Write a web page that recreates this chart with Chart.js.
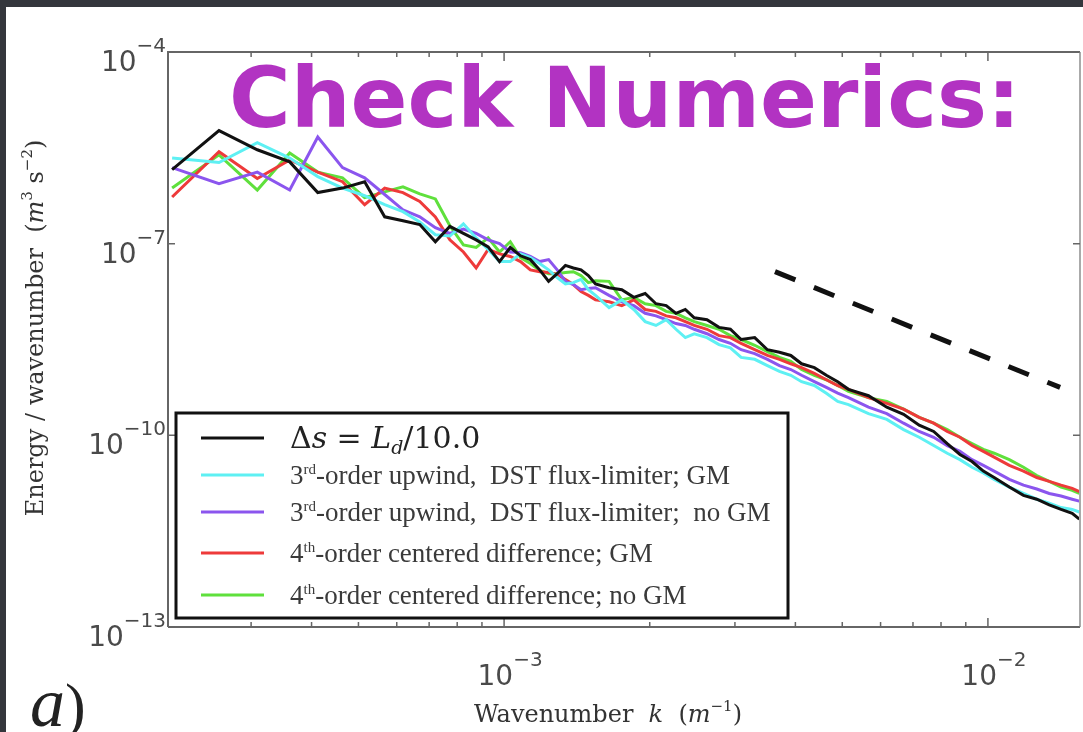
<!DOCTYPE html>
<html>
<head>
<meta charset="utf-8">
<script src="https://cdn.jsdelivr.net/npm/chart.js@4.4.0/dist/chart.umd.min.js"></script>
<style>
  html, body { margin: 0; padding: 0; background: #fff; }
  canvas { display: block; }
</style>
</head>
<body>
<canvas id="myChart" width="1083" height="732"></canvas>
<script>
/* WAVENUMBER k (1/m) */
const wavenumber = [2.06e-4, 2.575e-4, 3.09e-4, 3.605e-4, 4.12e-4, 4.635e-4, 5.15e-4, 5.665e-4, 6.18e-4, 6.695e-4,
  7.21e-4, 7.725e-4, 8.24e-4, 8.755e-4, 9.27e-4, 9.785e-4, 1.03e-3, 1.0815e-3, 1.133e-3, 1.1845e-3,
  1.236e-3, 1.2875e-3, 1.339e-3, 1.3905e-3, 1.442e-3, 1.4935e-3, 1.545e-3, 1.648e-3, 1.751e-3, 1.854e-3,
  1.957e-3, 2.06e-3, 2.163e-3, 2.266e-3, 2.369e-3, 2.472e-3, 2.6265e-3, 2.781e-3, 2.9355e-3, 3.09e-3,
  3.296e-3, 3.502e-3, 3.708e-3, 3.914e-3, 4.12e-3, 4.3775e-3, 4.635e-3, 4.8925e-3, 5.15e-3, 5.665e-3,
  6.18e-3, 6.695e-3, 7.21e-3, 7.725e-3, 8.24e-3, 8.755e-3, 9.27e-3, 9.785e-3, 1.03e-2, 1.10725e-2,
  1.1845e-2, 1.26175e-2, 1.339e-2, 1.41625e-2, 1.4935e-2, 1.545e-2];

/* ENERGY / WAVENUMBER, AS POWERS OF TEN */
const energyLd10 = [-5.84, -5.23, -5.53, -5.72, -6.20, -6.13, -6.03, -6.58, -6.64, -6.70,
  -6.97, -6.73, -6.84, -6.94, -7.05, -7.28, -7.06, -7.19, -7.25, -7.41,
  -7.59, -7.47, -7.34, -7.38, -7.41, -7.50, -7.63, -7.69, -7.72, -7.84,
  -7.78, -7.94, -7.97, -8.09, -8.03, -8.16, -8.19, -8.31, -8.34, -8.50,
  -8.47, -8.66, -8.70, -8.75, -8.88, -8.94, -9.06, -9.16, -9.28, -9.38,
  -9.56, -9.67, -9.84, -9.94, -10.13, -10.30, -10.41, -10.56, -10.66, -10.81,
  -10.94, -11.00, -11.09, -11.16, -11.22, -11.31];

const energyUpwindGM = [-5.66, -5.73, -5.42, -5.66, -5.95, -6.13, -6.25, -6.39, -6.50, -6.66,
  -6.86, -6.88, -6.69, -6.91, -7.09, -7.28, -7.28, -7.16, -7.22, -7.31,
  -7.41, -7.53, -7.63, -7.61, -7.56, -7.72, -7.81, -8.00, -7.88, -8.03,
  -8.22, -8.28, -8.19, -8.34, -8.47, -8.41, -8.47, -8.58, -8.63, -8.78,
  -8.81, -8.91, -9.00, -9.06, -9.16, -9.22, -9.34, -9.47, -9.52, -9.66,
  -9.75, -9.91, -10.03, -10.16, -10.28, -10.38, -10.50, -10.59, -10.69, -10.81,
  -10.91, -11.00, -11.06, -11.13, -11.16, -11.20];

const energyUpwindNoGM = [-5.81, -6.06, -5.88, -6.16, -5.33, -5.81, -5.97, -6.23, -6.47, -6.58,
  -6.75, -6.84, -6.77, -6.84, -6.94, -7.00, -7.13, -7.14, -7.20, -7.28,
  -7.25, -7.41, -7.59, -7.64, -7.72, -7.70, -7.69, -7.81, -7.91, -7.97,
  -8.09, -8.13, -8.19, -8.25, -8.28, -8.34, -8.41, -8.50, -8.56, -8.66,
  -8.72, -8.81, -8.91, -8.97, -9.06, -9.16, -9.25, -9.34, -9.41, -9.56,
  -9.66, -9.81, -9.94, -10.03, -10.16, -10.25, -10.38, -10.47, -10.56, -10.69,
  -10.78, -10.84, -10.91, -10.95, -11.00, -11.03];

const energyCenteredGM = [-6.27, -5.56, -5.98, -5.69, -5.88, -6.03, -6.39, -6.13, -6.20, -6.34,
  -6.58, -6.94, -7.13, -7.38, -7.09, -7.16, -7.20, -7.28, -7.41, -7.44,
  -7.45, -7.48, -7.56, -7.64, -7.75, -7.81, -7.88, -7.91, -7.97, -7.88,
  -8.03, -8.06, -8.13, -8.16, -8.22, -8.28, -8.34, -8.44, -8.47, -8.56,
  -8.66, -8.75, -8.81, -8.88, -8.94, -9.03, -9.13, -9.22, -9.28, -9.41,
  -9.50, -9.59, -9.72, -9.81, -9.94, -10.03, -10.16, -10.25, -10.34, -10.47,
  -10.56, -10.66, -10.72, -10.78, -10.83, -10.88];

const energyCenteredNoGM = [-6.13, -5.61, -6.16, -5.58, -5.88, -5.97, -6.28, -6.19, -6.11, -6.22,
  -6.30, -6.72, -7.02, -7.06, -6.91, -7.13, -6.97, -7.22, -7.31, -7.42,
  -7.47, -7.47, -7.45, -7.44, -7.50, -7.61, -7.58, -7.59, -7.88, -7.84,
  -7.94, -7.97, -8.06, -8.09, -8.16, -8.22, -8.28, -8.34, -8.44, -8.50,
  -8.59, -8.69, -8.78, -8.84, -8.97, -9.06, -9.13, -9.22, -9.31, -9.41,
  -9.47, -9.59, -9.72, -9.81, -9.91, -10.03, -10.13, -10.22, -10.28, -10.38,
  -10.50, -10.63, -10.72, -10.81, -10.86, -10.91];

/* k^-3 REFERENCE SLOPE (DASHED) */
const refK = [3.63e-3, 1.41e-2];
const refEnergy = [3.65e-8, 5.62e-10];

/* AXES */
const xRange = [2.02e-4, 1.55e-2];
const yRange = [1e-13, 1e-4];
const xTickExps = [-3, -2];
const xMinorTicks = [3e-4, 4e-4, 5e-4, 6e-4, 7e-4, 8e-4, 9e-4, 2e-3, 3e-3, 4e-3, 5e-3, 6e-3, 7e-3, 8e-3, 9e-3];
const yTickExps = [-4, -7, -10, -13];

const seriesLabels = ['Δs = Ld/10.0', '3rd-order upwind,  DST flux-limiter; GM',
  '3rd-order upwind,  DST flux-limiter;  no GM', '4th-order centered difference; GM',
  '4th-order centered difference; no GM'];
const seriesColors = ['#111111', '#5ef0f3', '#8b55ee', '#ee3a3a', '#5fe03c'];

let toPoints = (exps) => exps.map((e, i) => ({ x: wavenumber[i], y: Math.pow(10, e) }));

/* texto con partes: superindices, cursivas */
let drawRich = (c, parts, x, y, align) => {
  let w = 0;
  parts.forEach(p => { c.font = p.f; w += c.measureText(p.t).width; });
  let cx = align === 'right' ? x - w : (align === 'center' ? x - w / 2 : x);
  parts.forEach(p => {
    c.font = p.f;
    c.fillText(p.t, cx, y + (p.dy || 0));
    cx += c.measureText(p.t).width;
  });
  return w;
};

const serif = '"Liberation Serif"';
const dserif = '"DejaVu Serif"';
const tickBig = '28px "DejaVu Sans"';
const tickSup = '20px "DejaVu Sans"';

const decor = {
  id: 'decor',
  beforeDraw(chart) {
    const c = chart.ctx;
    c.save();
    c.fillStyle = '#ffffff';
    c.fillRect(0, 0, chart.width, chart.height);
    c.fillStyle = '#34363c';
    c.fillRect(0, 0, chart.width, 7);
    c.fillRect(0, 0, 6, chart.height);
    c.restore();
  },
  afterDatasetsDraw(chart) {
    const c = chart.ctx;
    const a = chart.chartArea;
    const xs = chart.scales.x;
    const ys = chart.scales.y;
    c.save();

    /* marco */
    c.lineWidth = 2;
    c.strokeStyle = '#666';
    c.beginPath();
    c.moveTo(a.left, a.bottom); c.lineTo(a.left, a.top); c.lineTo(a.right, a.top);
    c.moveTo(a.left, a.bottom); c.lineTo(a.right, a.bottom);
    c.stroke();
    c.strokeStyle = '#aaa';
    c.beginPath(); c.moveTo(a.right, a.top); c.lineTo(a.right, a.bottom); c.stroke();

    /* ticks */
    c.strokeStyle = '#666';
    c.lineWidth = 1.5;
    c.beginPath();
    xMinorTicks.forEach(v => {
      const px = xs.getPixelForValue(v);
      c.moveTo(px, a.bottom); c.lineTo(px, a.bottom - 5);
      c.moveTo(px, a.top); c.lineTo(px, a.top + 5);
    });
    xTickExps.forEach(e => {
      const px = xs.getPixelForValue(Math.pow(10, e));
      c.moveTo(px, a.bottom); c.lineTo(px, a.bottom - 9);
      c.moveTo(px, a.top); c.lineTo(px, a.top + 9);
    });
    yTickExps.forEach(e => {
      const py = ys.getPixelForValue(Math.pow(10, e));
      c.moveTo(a.left, py); c.lineTo(a.left + 7, py);
      c.moveTo(a.right, py); c.lineTo(a.right - 7, py);
    });
    c.stroke();

    /* etiquetas */
    c.fillStyle = '#4a4a4a';
    c.textAlign = 'left';
    c.textBaseline = 'alphabetic';
    yTickExps.forEach(e => {
      const py = ys.getPixelForValue(Math.pow(10, e));
      drawRich(c, [{ t: '10', f: tickBig }, { t: '\u2212' + Math.abs(e), f: tickSup, dy: -19 }], a.left - 2, py + 19, 'right');
    });
    xTickExps.forEach(e => {
      const px = xs.getPixelForValue(Math.pow(10, e));
      drawRich(c, [{ t: '10', f: tickBig }, { t: '\u2212' + Math.abs(e), f: tickSup, dy: -19 }], px + 6, a.bottom + 58, 'center');
    });

    /* titulos de ejes */
    c.fillStyle = '#333';
    const lab = '24px ' + dserif;
    const labI = 'italic 24px ' + dserif;
    const labS = '15px ' + dserif;
    drawRich(c, [{ t: 'Wavenumber  ', f: lab }, { t: 'k', f: labI }, { t: '  (', f: lab }, { t: 'm', f: labI },
      { t: '\u22121', f: labS, dy: -11 }, { t: ')', f: lab }], 608, 722, 'center');
    c.save();
    c.translate(43, 328);
    c.rotate(-Math.PI / 2);
    drawRich(c, [{ t: 'Energy / wavenumber  (', f: lab }, { t: 'm', f: labI }, { t: '3', f: labS, dy: -11 },
      { t: ' s', f: lab }, { t: '\u22122', f: labS, dy: -11 }, { t: ')', f: lab }], 0, 0, 'center');
    c.restore();

    /* leyenda */
    const lx = 176, ly = 413, lw = 612, lh = 205;
    c.fillStyle = '#fff';
    c.fillRect(lx, ly, lw, lh);
    c.lineWidth = 3;
    c.strokeStyle = '#111';
    c.strokeRect(lx, ly, lw, lh);
    const rows = [438, 475, 512, 553, 595];
    const legF = '27px ' + serif;
    const legS = '15px ' + serif;
    rows.forEach((ry, i) => {
      c.strokeStyle = seriesColors[i];
      c.lineWidth = 3;
      c.beginPath(); c.moveTo(201, ry); c.lineTo(264, ry); c.stroke();
    });
    c.fillStyle = '#222';
    drawRich(c, [{ t: 'Δ', f: '30px ' + dserif }, { t: 's', f: 'italic 30px ' + dserif }, { t: ' = ', f: '30px ' + dserif },
      { t: 'L', f: 'italic 30px ' + dserif }, { t: 'd', f: 'italic 19px ' + dserif, dy: 6 }, { t: '/10.0', f: '30px ' + dserif }], 290, rows[0] + 10, 'left');
    c.fillStyle = '#3a3a3a';
    const tails = [['3', 'rd', '-order upwind,  DST flux-limiter; GM'], ['3', 'rd', '-order upwind,  DST flux-limiter;  no GM'],
      ['4', 'th', '-order centered difference; GM'], ['4', 'th', '-order centered difference; no GM']];
    tails.forEach((t, i) => {
      drawRich(c, [{ t: t[0], f: legF }, { t: t[1], f: legS, dy: -10 }, { t: t[2], f: legF }], 290, rows[i + 1] + 9, 'left');
    });

    /* titulo */
    c.fillStyle = '#b233c2';
    c.font = 'bold 84px "DejaVu Sans"';
    c.fillText('Check Numerics:', 229, 127);

    /* a) */
    c.fillStyle = '#222';
    drawRich(c, [{ t: 'a', f: 'italic 70px ' + serif }, { t: ')', f: '62px ' + serif }], 30, 726, 'left');

    c.restore();
  }
};

let plot = () => {
  const ctx = document.getElementById('myChart');
  const series = [energyLd10, energyUpwindGM, energyUpwindNoGM, energyCenteredGM, energyCenteredNoGM];
  const datasets = series.map((s, i) => ({
    label: seriesLabels[i],
    data: toPoints(s),
    borderColor: seriesColors[i],
    borderWidth: 3,
    pointRadius: 0,
    fill: false,
    tension: 0
  }));
  datasets.push({
    label: 'k^-3',
    data: refK.map((k, i) => ({ x: k, y: refEnergy[i] })),
    borderColor: '#111',
    borderWidth: 5,
    borderDash: [22, 20],
    pointRadius: 0,
    fill: false
  });
  const config = {
    type: 'line',
    data: { datasets: datasets },
    options: {
      responsive: false,
      animation: false,
      devicePixelRatio: 1,
      layout: { padding: { left: 168, right: 3, top: 52, bottom: 105 } },
      scales: {
        x: { type: 'logarithmic', min: xRange[0], max: xRange[1], display: false },
        y: { type: 'logarithmic', min: yRange[0], max: yRange[1], display: false }
      },
      plugins: { legend: { display: false }, tooltip: { enabled: false } }
    },
    plugins: [decor]
  };
  const chart = new Chart(ctx, config);
};

plot();
</script>
</body>
</html>
